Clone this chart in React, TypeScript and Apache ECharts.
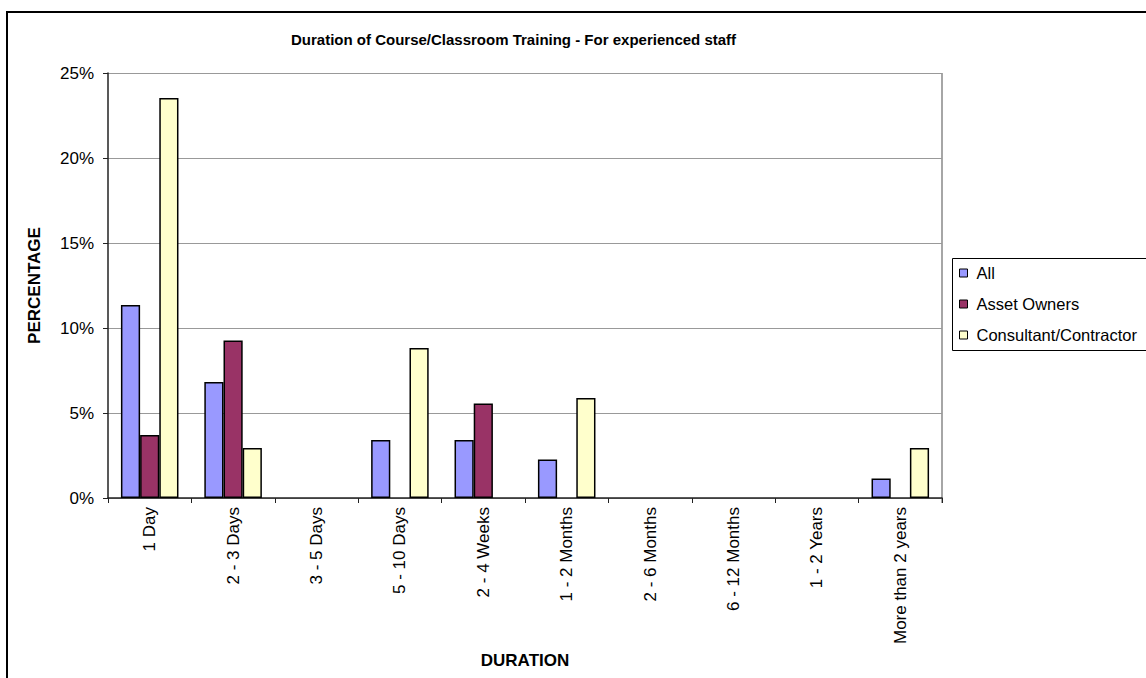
import React, { useEffect, useRef } from "react";
import * as echarts from "echarts";

const categories = [
  "1 Day",
  "2 - 3 Days",
  "3 - 5 Days",
  "5 - 10 Days",
  "2 - 4 Weeks",
  "1 - 2 Months",
  "2 - 6 Months",
  "6 - 12 Months",
  "1 - 2 Years",
  "More than 2 years",
];
const allValues = [11.36, 6.82, 0, 3.41, 3.41, 2.27, 0, 0, 0, 1.14];
const assetOwners = [3.7, 9.26, 0, 0, 5.56, 0, 0, 0, 0, 0];
const consultants = [23.53, 2.94, 0, 8.82, 0, 5.88, 0, 0, 0, 2.94];
const yTicks = { min: 0, max: 25, interval: 5 };

const FONT = "'Liberation Sans', Arial, sans-serif";

// Excel draws no bar for a zero value
const toBars = (vals: number[]) => vals.map((v) => (v === 0 ? null : v));

export default function App() {
  const ref = useRef<HTMLDivElement>(null);
  useEffect(() => {
    document.body.style.margin = "0";
    const chart = echarts.init(ref.current!, undefined, { renderer: "svg" });
    const barStyle = (color: string) => ({
      color,
      borderColor: "#000",
      borderWidth: 1.5,
    });
    chart.setOption({
      animation: false,
      backgroundColor: "#fff",
      textStyle: { fontFamily: FONT },
      title: {
        text: "Duration of Course/Classroom Training - For experienced staff",
        left: 291,
        top: 32,
        padding: 0,
        textStyle: { fontFamily: FONT, fontSize: 15, fontWeight: "bold", color: "#000" },
      },
      legend: {
        orient: "vertical",
        left: 959,
        top: 263,
        padding: 0,
        itemWidth: 8,
        itemHeight: 8,
        itemGap: 11,
        icon: "rect",
        itemStyle: { borderColor: "#000", borderWidth: 1 },
        textStyle: {
          fontFamily: FONT,
          fontSize: 16.5,
          color: "#000",
          lineHeight: 20,
          padding: [0, 0, 0, 4],
        },
        data: ["All", "Asset Owners", "Consultant/Contractor"],
      },
      grid: { left: 108, right: 204, top: 73, bottom: 180, containLabel: false },
      xAxis: {
        type: "category",
        data: categories,
        name: "DURATION",
        nameLocation: "middle",
        nameGap: 151,
        nameTextStyle: { fontFamily: FONT, fontSize: 17, fontWeight: "bold", color: "#000" },
        axisLine: { lineStyle: { color: "#222", width: 1.5 } },
        axisTick: { show: true, length: 5, lineStyle: { color: "#222" } },
        axisLabel: {
          rotate: 90,
          interval: 0,
          margin: 9,
          fontFamily: FONT,
          fontSize: 17,
          color: "#000",
        },
      },
      yAxis: {
        type: "value",
        min: yTicks.min,
        max: yTicks.max,
        interval: yTicks.interval,
        name: "PERCENTAGE",
        nameLocation: "middle",
        nameGap: 65,
        nameTextStyle: { fontFamily: FONT, fontSize: 17, fontWeight: "bold", color: "#000" },
        axisLine: { show: true, lineStyle: { color: "#222", width: 1.5 } },
        axisTick: { show: true, length: 5, lineStyle: { color: "#222" } },
        axisLabel: {
          formatter: "{value}%",
          margin: 14,
          fontFamily: FONT,
          fontSize: 17,
          color: "#000",
        },
        splitLine: { show: true, lineStyle: { color: "#999", width: 1 } },
      },
      graphic: [
        {
          type: "rect",
          shape: { x: 7, y: 12, width: 1300, height: 800 },
          style: { fill: "none", stroke: "#000", lineWidth: 2 },
          silent: true,
        },
        {
          type: "line",
          shape: { x1: 942, y1: 73, x2: 942, y2: 503 },
          style: { stroke: "#888", lineWidth: 1.5 },
          silent: true,
        },
        {
          type: "rect",
          shape: { x: 952.5, y: 258.5, width: 400, height: 92 },
          style: { fill: "none", stroke: "#000", lineWidth: 1 },
          silent: true,
          z: 10,
        },
      ],
      series: [
        {
          name: "All",
          type: "bar",
          data: toBars(allValues),
          barGap: "0%",
          barCategoryGap: "31%",
          itemStyle: barStyle("#9999FF"),
        },
        {
          name: "Asset Owners",
          type: "bar",
          data: toBars(assetOwners),
          barGap: "0%",
          barCategoryGap: "31%",
          itemStyle: barStyle("#993366"),
        },
        {
          name: "Consultant/Contractor",
          type: "bar",
          data: toBars(consultants),
          barGap: "0%",
          barCategoryGap: "31%",
          itemStyle: barStyle("#FFFFCC"),
        },
      ],
    });
    return () => chart.dispose();
  }, []);
  return (
    <div
      ref={ref}
      style={{ position: "absolute", left: 0, top: 0, width: 1146, height: 678 }}
    />
  );
}
